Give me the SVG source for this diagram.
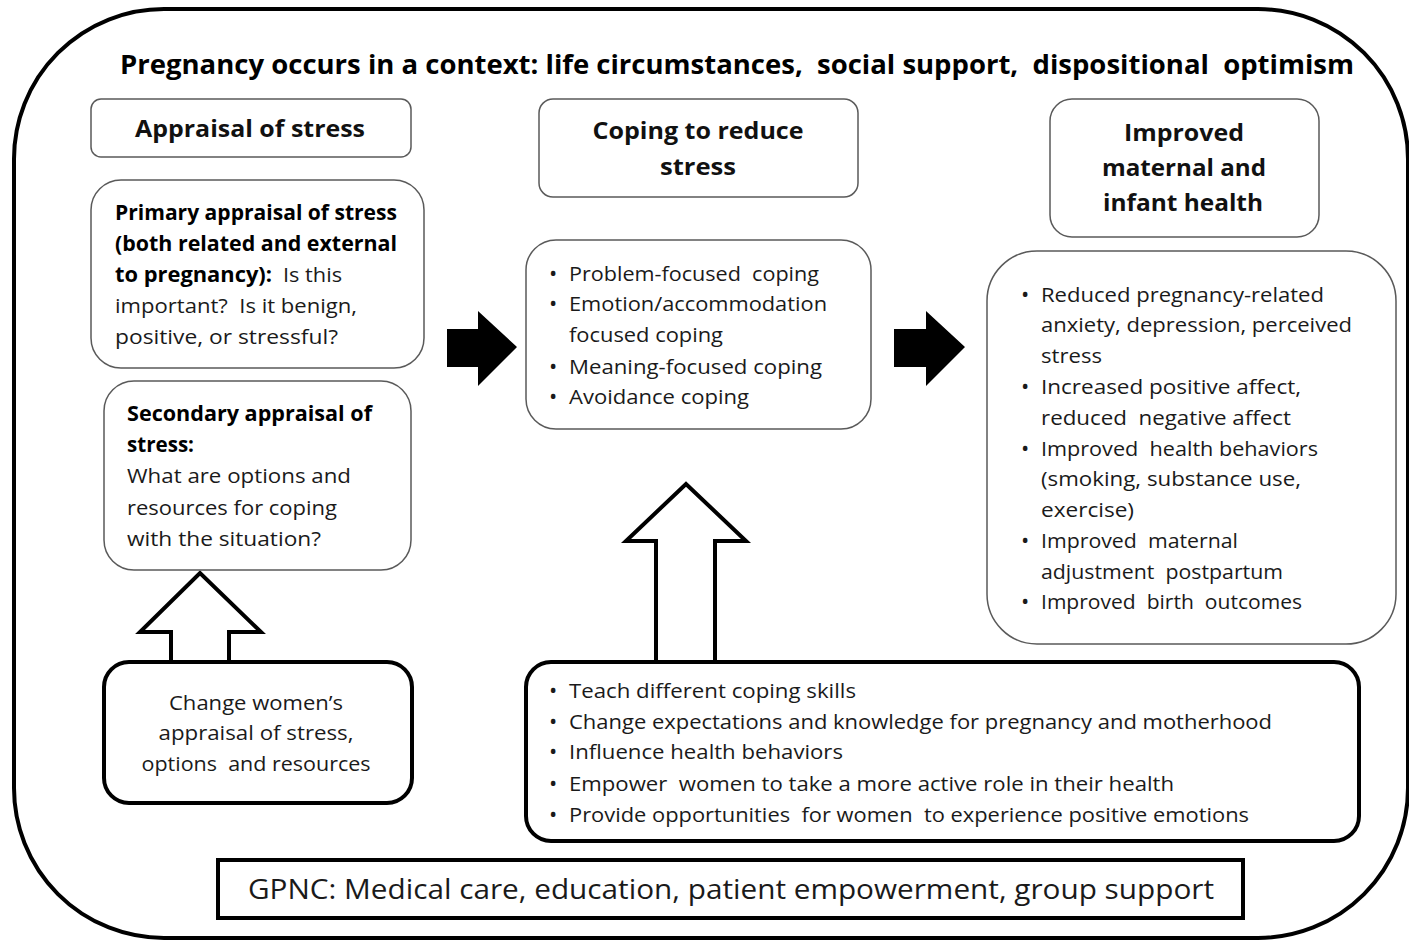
<svg xmlns="http://www.w3.org/2000/svg" width="1409" height="941" viewBox="0 0 1409 941">
<style>
  text { font-family: "Open Sans", "Noto Sans", "Liberation Sans", sans-serif; fill: #1a1a1a; white-space: pre; }
  .title { font-size: 27px; font-weight: bold; fill: #000; }
  .head { font-size: 24px; font-weight: bold; fill: #111; }
  .body { font-size: 20.5px; }
  .bul { font-size: 22px; }
  .b { font-weight: bold; fill: #000; }
  .gp { font-size: 28px; }
  .thin { fill: #fff; stroke: #5a5a5a; stroke-width: 1.5; }
  .thick { fill: #fff; stroke: #000; stroke-width: 4; }
  .hollow { fill: #fff; stroke: #000; stroke-width: 4; stroke-linejoin: miter; }
  .solid { fill: #000; stroke: none; }
</style>
<rect width="1409" height="941" fill="#fff"/>

<g id="context">
  <rect x="14" y="9" width="1394" height="929" rx="150" ry="150" fill="#fff" stroke="#000" stroke-width="4"/>
  <text class="title" x="120" y="74" textLength="1234" lengthAdjust="spacingAndGlyphs">Pregnancy occurs in a context: life circumstances,  social support,  dispositional  optimism</text>
</g>

<g id="connectors">
  <polygon class="solid" points="447,329 478,329 478,311 517,347 478,386 478,367 447,367"/>
  <polygon class="solid" points="894,329 926,329 926,311 965,347 926,386 926,367 894,367"/>
  <polygon class="hollow" points="171,662 171,632 140,632 200,573 261,632 229,632 229,662"/>
  <polygon class="hollow" points="656,662 656,541 626,541 686,484 746,541 715,541 715,662"/>
</g>

<g id="appraisal-head">
  <rect class="thin" x="91" y="99" width="320" height="58" rx="10"/>
  <text class="head" x="250" y="137" text-anchor="middle" textLength="230" lengthAdjust="spacingAndGlyphs">Appraisal of stress</text>
</g>

<g id="coping-head">
  <rect class="thin" x="539" y="99" width="319" height="98" rx="14"/>
  <text class="head" x="698" y="139" text-anchor="middle" textLength="211" lengthAdjust="spacingAndGlyphs">Coping to reduce</text>
  <text class="head" x="698" y="175" text-anchor="middle" textLength="76" lengthAdjust="spacingAndGlyphs">stress</text>
</g>

<g id="health-head">
  <rect class="thin" x="1050" y="99" width="269" height="138" rx="22"/>
  <text class="head" x="1184" y="141" text-anchor="middle" textLength="120" lengthAdjust="spacingAndGlyphs">Improved</text>
  <text class="head" x="1184" y="176" text-anchor="middle" textLength="164" lengthAdjust="spacingAndGlyphs">maternal and</text>
  <text class="head" x="1183" y="211" text-anchor="middle" textLength="160" lengthAdjust="spacingAndGlyphs">infant health</text>
</g>

<g id="primary">
  <rect class="thin" x="91" y="180" width="333" height="188" rx="30"/>
  <text class="body b" x="115" y="220" textLength="282" lengthAdjust="spacingAndGlyphs">Primary appraisal of stress</text>
  <text class="body b" x="115" y="251" textLength="282" lengthAdjust="spacingAndGlyphs">(both related and external</text>
  <text class="body b" x="115" y="282" textLength="157" lengthAdjust="spacingAndGlyphs">to pregnancy):</text>
  <text class="body" x="283" y="282" textLength="59" lengthAdjust="spacingAndGlyphs">Is this</text>
  <text class="body" x="115" y="313" textLength="242" lengthAdjust="spacingAndGlyphs">important?  Is it benign,</text>
  <text class="body" x="115" y="344" textLength="223" lengthAdjust="spacingAndGlyphs">positive, or stressful?</text>
</g>

<g id="secondary">
  <rect class="thin" x="104" y="381" width="307" height="189" rx="30"/>
  <text class="body b" x="127" y="421" textLength="245" lengthAdjust="spacingAndGlyphs">Secondary appraisal of</text>
  <text class="body b" x="127" y="452" textLength="67" lengthAdjust="spacingAndGlyphs">stress:</text>
  <text class="body" x="127" y="483" textLength="224" lengthAdjust="spacingAndGlyphs">What are options and</text>
  <text class="body" x="127" y="515" textLength="210" lengthAdjust="spacingAndGlyphs">resources for coping</text>
  <text class="body" x="127" y="546" textLength="194" lengthAdjust="spacingAndGlyphs">with the situation?</text>
</g>

<g id="coping">
  <rect class="thin" x="526" y="240" width="345" height="189" rx="30"/>
  <text class="bul" x="549" y="281">•</text>
  <text class="body" x="569" y="281" textLength="250" lengthAdjust="spacingAndGlyphs">Problem-focused  coping</text>
  <text class="bul" x="549" y="311">•</text>
  <text class="body" x="569" y="311" textLength="258" lengthAdjust="spacingAndGlyphs">Emotion/accommodation</text>
  <text class="body" x="569" y="342" textLength="154" lengthAdjust="spacingAndGlyphs">focused coping</text>
  <text class="bul" x="549" y="374">•</text>
  <text class="body" x="569" y="374" textLength="253" lengthAdjust="spacingAndGlyphs">Meaning-focused coping</text>
  <text class="bul" x="549" y="404">•</text>
  <text class="body" x="569" y="404" textLength="180" lengthAdjust="spacingAndGlyphs">Avoidance coping</text>
</g>

<g id="outcomes">
  <rect class="thin" x="987" y="251" width="409" height="393" rx="50"/>
  <text class="bul" x="1021" y="302">•</text>
  <text class="body" x="1041" y="302" textLength="283" lengthAdjust="spacingAndGlyphs">Reduced pregnancy-related</text>
  <text class="body" x="1041" y="332" textLength="311" lengthAdjust="spacingAndGlyphs">anxiety, depression, perceived</text>
  <text class="body" x="1041" y="363" textLength="61" lengthAdjust="spacingAndGlyphs">stress</text>
  <text class="bul" x="1021" y="394">•</text>
  <text class="body" x="1041" y="394" textLength="260" lengthAdjust="spacingAndGlyphs">Increased positive affect,</text>
  <text class="body" x="1041" y="425" textLength="250" lengthAdjust="spacingAndGlyphs">reduced  negative affect</text>
  <text class="bul" x="1021" y="456">•</text>
  <text class="body" x="1041" y="456" textLength="277" lengthAdjust="spacingAndGlyphs">Improved  health behaviors</text>
  <text class="body" x="1041" y="486" textLength="260" lengthAdjust="spacingAndGlyphs">(smoking, substance use,</text>
  <text class="body" x="1041" y="517" textLength="93" lengthAdjust="spacingAndGlyphs">exercise)</text>
  <text class="bul" x="1021" y="548">•</text>
  <text class="body" x="1041" y="548" textLength="197" lengthAdjust="spacingAndGlyphs">Improved  maternal</text>
  <text class="body" x="1041" y="579" textLength="242" lengthAdjust="spacingAndGlyphs">adjustment  postpartum</text>
  <text class="bul" x="1021" y="609">•</text>
  <text class="body" x="1041" y="609" textLength="261" lengthAdjust="spacingAndGlyphs">Improved  birth  outcomes</text>
</g>

<g id="change-appraisal">
  <rect class="thick" x="104" y="662" width="308" height="141" rx="25"/>
  <text class="body" x="256" y="710" text-anchor="middle" textLength="174" lengthAdjust="spacingAndGlyphs">Change women’s</text>
  <text class="body" x="256" y="740" text-anchor="middle" textLength="195" lengthAdjust="spacingAndGlyphs">appraisal of stress,</text>
  <text class="body" x="256" y="771" text-anchor="middle" textLength="229" lengthAdjust="spacingAndGlyphs">options  and resources</text>
</g>

<g id="interventions">
  <rect class="thick" x="526" y="662" width="833" height="179" rx="25"/>
  <text class="bul" x="549" y="698">•</text>
  <text class="body" x="569" y="698" textLength="287" lengthAdjust="spacingAndGlyphs">Teach different coping skills</text>
  <text class="bul" x="549" y="729">•</text>
  <text class="body" x="569" y="729" textLength="703" lengthAdjust="spacingAndGlyphs">Change expectations and knowledge for pregnancy and motherhood</text>
  <text class="bul" x="549" y="759">•</text>
  <text class="body" x="569" y="759" textLength="274" lengthAdjust="spacingAndGlyphs">Influence health behaviors</text>
  <text class="bul" x="549" y="791">•</text>
  <text class="body" x="569" y="791" textLength="605" lengthAdjust="spacingAndGlyphs">Empower  women to take a more active role in their health</text>
  <text class="bul" x="549" y="822">•</text>
  <text class="body" x="569" y="822" textLength="680" lengthAdjust="spacingAndGlyphs">Provide opportunities  for women  to experience positive emotions</text>
</g>

<g id="gpnc">
  <rect x="218" y="860" width="1025" height="58" fill="#fff" stroke="#000" stroke-width="4"/>
  <text class="gp" x="731" y="899" text-anchor="middle" textLength="966" lengthAdjust="spacingAndGlyphs">GPNC: Medical care, education, patient empowerment, group support</text>
</g>
</svg>
